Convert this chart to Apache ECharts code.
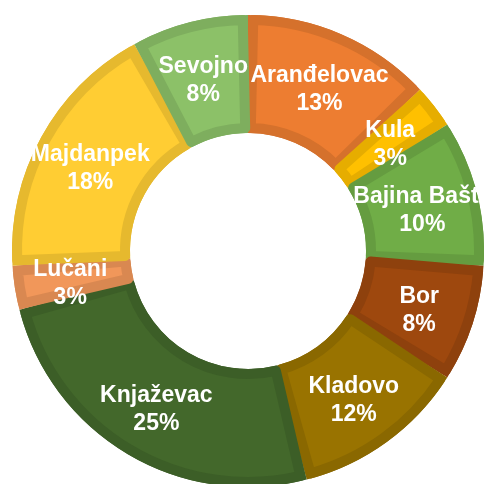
<!DOCTYPE html>
<html>
<head>
<meta charset="utf-8">
<script src="https://cdn.jsdelivr.net/npm/echarts@6/dist/echarts.min.js"></script>
<style>
  html, body { margin: 0; padding: 0; background: #fff; }
  #donut-chart-div { width: 484px; height: 484px; }
</style>
</head>
<body>
<div id="donut-chart-div"></div>
<script>
// towns, clockwise from 12 o'clock
var towns = ['Aranđelovac', 'Kula', 'Bajina Bašta', 'Bor', 'Kladovo', 'Knjaževac', 'Lučani', 'Majdanpek', 'Sevojno'];
var shares = [13, 3, 10, 8, 12, 25, 3, 18, 8];

var fillColors = ['#ED7D31', '#FFC000', '#70AD47', '#9E480E', '#997300', '#43682B', '#F1975A', '#FFCD33', '#8CC168'];
var edgeColors = ['#D5712C', '#E6AD00', '#659C40', '#8E410D', '#8A6800', '#3C5E27', '#D98851', '#E6B92E', '#7EAE5E'];

var donut_chartDom = document.getElementById('donut-chart-div');
var donut_myChart = echarts.init(donut_chartDom);
var donut_option;

var darkData = towns.map(function (t, i) {
    return { name: t, value: shares[i], itemStyle: { color: edgeColors[i] } };
});
var lightData = towns.map(function (t, i) {
    return { name: t, value: shares[i], itemStyle: { color: fillColors[i], borderColor: edgeColors[i] } };
});

donut_option = {
    animation: false,
    series: [
        {
            // darker rim underneath
            type: 'pie',
            silent: true,
            center: [248, 251],
            radius: [118, 236],
            startAngle: 90,
            clockwise: true,
            label: { show: false },
            labelLine: { show: false },
            data: darkData
        },
        {
            type: 'pie',
            silent: true,
            center: [248, 251],
            radius: [123, 231],
            startAngle: 90,
            clockwise: true,
            padAngle: 2.6,
            avoidLabelOverlap: false,
            labelLayout: { hideOverlap: false },
            itemStyle: {
                borderWidth: 10
            },
            label: {
                show: true,
                position: 'inside',
                formatter: '{b}\n{c}%',
                color: '#fff',
                fontFamily: 'Liberation Sans, Arial, sans-serif',
                fontWeight: 'bold',
                fontSize: 23,
                lineHeight: 28,
                offset: [0, 4]
            },
            labelLine: { show: false },
            data: lightData
        }
    ]
};

if (donut_option && typeof donut_option === 'object') {
    donut_myChart.setOption(donut_option);
}
</script>
</body>
</html>
